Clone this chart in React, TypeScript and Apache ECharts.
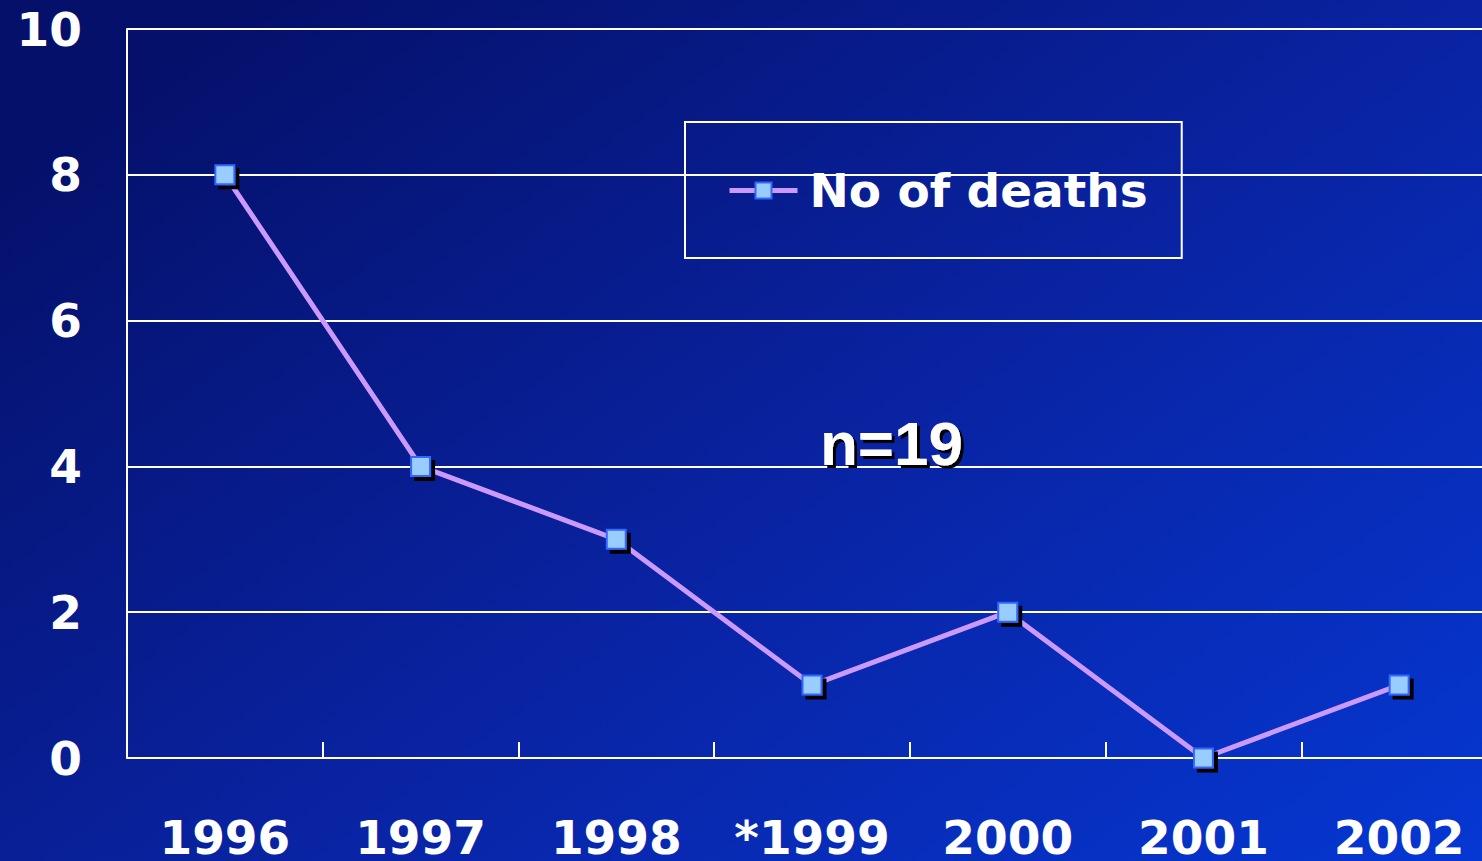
import React, { useEffect, useRef } from "react";
import * as echarts from "echarts";

const years = ["1996", "1997", "1998", "*1999", "2000", "2001", "2002"];
const deaths = [8, 4, 3, 1, 2, 0, 1];
const yTicks = [0, 2, 4, 6, 8, 10];
const seriesName = "No of deaths";
const annotation = "n=19";

export default function App() {
  const ref = useRef<HTMLDivElement>(null);
  useEffect(() => {
    if (!ref.current) return;
    const chart = echarts.init(ref.current, undefined, { renderer: "svg" });
    const font = "'DejaVu Sans', Verdana, sans-serif";
    const nFont = "bold 62px 'Liberation Sans', Arial, sans-serif";
    chart.setOption({
      animation: false,
      backgroundColor: new echarts.graphic.LinearGradient(0, 0.2, 1, 1, [
        { offset: 0, color: "#04106a" },
        { offset: 0.5, color: "#0923a2" },
        { offset: 1, color: "#0538d4" },
      ]),
      grid: { left: 127, top: 29, width: 1370, height: 731 },
      legend: {
        left: 685,
        top: 122,
        padding: [45, 34, 44, 42],
        borderColor: "#ffffff",
        borderWidth: 2,
        itemWidth: 68,
        itemHeight: 20,
        data: [seriesName],
        itemStyle: {
          color: "#99ccff",
          borderColor: "#3366ff",
          borderWidth: 2,
          shadowColor: "rgba(0,0,0,0)",
          shadowOffsetX: 0,
          shadowOffsetY: 0,
        },
        lineStyle: { color: "#cc99ff", width: 5 },
        textStyle: {
          color: "#ffffff",
          fontSize: 47,
          fontWeight: "bold",
          fontFamily: font,
          padding: [0, 0, 0, 7],
        },
      },
      xAxis: {
        type: "category",
        data: years,
        boundaryGap: true,
        axisLine: { show: true, lineStyle: { color: "#ffffff", width: 2 } },
        axisTick: {
          show: true,
          inside: true,
          interval: 0,
          length: 16,
          lineStyle: { color: "#ffffff", width: 2 },
        },
        axisLabel: {
          interval: 0,
          color: "#ffffff",
          fontSize: 47,
          lineHeight: 41,
          fontWeight: "bold",
          fontFamily: font,
          margin: 59,
        },
        splitLine: { show: false },
      },
      yAxis: {
        type: "value",
        min: yTicks[0],
        max: yTicks[yTicks.length - 1],
        interval: yTicks[1] - yTicks[0],
        axisLine: { show: true, lineStyle: { color: "#ffffff", width: 2 } },
        axisTick: { show: false },
        axisLabel: {
          color: "#ffffff",
          fontSize: 47,
          fontWeight: "bold",
          fontFamily: font,
          margin: 45,
        },
        splitLine: { show: true, lineStyle: { color: "#ffffff", width: 2 } },
      },
      graphic: [
        {
          type: "text",
          left: 820,
          top: 412,
          z: 11,
          silent: true,
          style: {
            text: annotation,
            fill: "#ffffff",
            font: nFont,
            textShadowColor: "#000000",
            textShadowBlur: 1,
            textShadowOffsetX: 3,
            textShadowOffsetY: 3,
          },
        },
      ],
      series: [
        {
          name: seriesName,
          type: "line",
          data: deaths,
          symbol: "rect",
          symbolSize: 19,
          lineStyle: { color: "#cc99ff", width: 5 },
          itemStyle: {
            color: "#99ccff",
            borderColor: "#3366ff",
            borderWidth: 2,
            shadowColor: "#000000",
            shadowOffsetX: 4,
            shadowOffsetY: 4,
            shadowBlur: 0,
          },
          z: 5,
        },
      ],
    });
    return () => chart.dispose();
  }, []);
  return (
    <div
      style={{
        position: "absolute",
        left: 0,
        top: 0,
        width: 1482,
        height: 861,
        overflow: "hidden",
      }}
    >
      <div ref={ref} style={{ width: 1520, height: 861 }} />
    </div>
  );
}
